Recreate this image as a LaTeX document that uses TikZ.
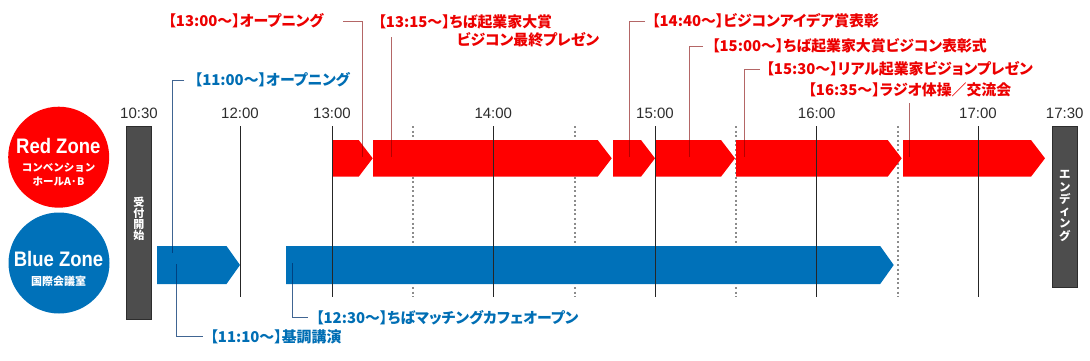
\documentclass[tikz,border=0pt]{standalone}
\usepackage{fontspec}
\usepackage{xcolor}
\setmainfont{Liberation Sans}
\newfontfamily\jp{Noto Sans CJK JP}
\newfontfamily\jpp[RawFeature=+palt]{Noto Sans CJK JP}
\usetikzlibrary{calc}
\definecolor{zred}{RGB}{255,0,0}
\definecolor{zblue}{RGB}{0,113,185}
\definecolor{txtred}{RGB}{236,0,0}
\definecolor{txtblue}{RGB}{0,110,180}
\definecolor{leadred}{RGB}{130,0,0}
\definecolor{leadblue}{RGB}{0,50,110}
\definecolor{barfill}{RGB}{77,77,77}
\definecolor{bardraw}{RGB}{45,45,45}
\definecolor{timegray}{RGB}{45,45,45}

\begin{document}
\begin{tikzpicture}[x=1pt,y=-1pt,line width=1pt,
	tlabel/.style={font=\fontsize{15}{15}\selectfont,text=timegray,inner sep=0pt},
	rlabel/.style={font=\jpp\bfseries\fontsize{14.9}{14.9}\selectfont,text=txtred,anchor=west,inner sep=0pt},
	blabel/.style={font=\jpp\bfseries\fontsize{14.9}{14.9}\selectfont,text=txtblue,anchor=west,inner sep=0pt},
	rlead/.style={draw=leadred,draw opacity=0.6,line width=1pt},
	blead/.style={draw=leadblue,draw opacity=0.75,line width=1pt},
	hourline/.style={draw=black!85,line width=1pt},
	dotline/.style={draw=black!45,line width=1.6pt,dash pattern=on 2pt off 2.6pt},
	gbar/.style={fill=barfill,draw=bardraw,line width=0.8pt},
	vtext/.style={font=\jp\bfseries\fontsize{11}{11}\selectfont,text=white,align=center,inner sep=0pt}]
	\useasboundingbox (0,0) rectangle (1090,360);
	% % % % % % % % % % % % % % %
	\pgfmathsetmacro{\tip}{14} %箭头深度
	%半点虚线
	\foreach \x in {412.7,574.7,735.7,898} {
		\draw[dotline] (\x,126) -- (\x,297);
	}
	%Red Zone 的条
	\foreach \a/\b in {332/372.7,373/611.7,613/655,655.3/735,736/901.7,903/1045} {
		\fill[zred] (\a,140) -- (\b-\tip,140) -- (\b,158.3) -- (\b-\tip,176.7) -- (\a,176.7) -- cycle;
	}
	%Blue Zone 的条
	\foreach \a/\b in {157/240,286/893.7} {
		\fill[zblue] (\a,246) -- (\b-13.5,246) -- (\b,265) -- (\b-13.5,284) -- (\a,284) -- cycle;
	}
	%受付, エンディング
	\draw[gbar] (126,126) rectangle (151.7,319.3);
	\draw[gbar] (1052.3,126.7) rectangle (1077.3,287);
	\node[vtext] (reception) at (138.9,219) {受\\付\\開\\始};
	\node[vtext,font=\jp\bfseries\fontsize{11.5}{12.3}\selectfont] (ending) at (1064.8,206) {エ\\ン\\デ\\ィ\\ン\\グ};
	%整点线和时刻
	\foreach \x/\hh/\n in {240/12:00/h12,332/13:00/h13,493.3/14:00/h14,655/15:00/h15,816.7/16:00/h16,978/17:00/h17} {
		\draw[hourline] (\x,126) -- (\x,297);
		\node[tlabel] (\n) at (\x,113.5) {\hh};
	}
	\node[tlabel] (h1030) at (139,113.5) {10:30};
	\node[tlabel] (h1730) at (1064.7,113.5) {17:30};
	%两个圆
	\node[circle,fill=zred,minimum size=101pt,inner sep=0pt] (redzone) at (58.7,157.2) {};
	\node[circle,fill=zblue,minimum size=101pt,inner sep=0pt] (bluezone) at (59,263) {};
	\node[text=white,inner sep=0pt,font=\bfseries\fontsize{21}{21}\selectfont] (redT) at (58.3,146) {\scalebox{0.88}[1]{Red Zone}};
	\node[text=white,inner sep=0pt,font=\jp\bfseries\fontsize{10.5}{10.5}\selectfont] (redS1) at (58.5,168) {コンベンション};
	\node[text=white,inner sep=0pt,font=\jp\bfseries\fontsize{10.5}{10.5}\selectfont] (redS2) at (58.5,182) {ホールA·B};
	\node[text=white,inner sep=0pt,font=\bfseries\fontsize{21}{21}\selectfont] (blueT) at (58.5,259) {\scalebox{0.88}[1]{Blue Zone}};
	\node[text=white,inner sep=0pt,font=\jp\bfseries\fontsize{11}{11}\selectfont] (blueS) at (58.5,281.5) {国際会議室};
	%红色的标注
	\node[rlabel] (lblR1) at (168,21) {【13:00～】オープニング};
	\node[rlabel] (lblR2) at (378,22) {【13:15～】ちば起業家大賞};
	\node[rlabel] (lblR2b) at (456.5,39.5) {ビジコン最終プレゼン};
	\node[rlabel] (lblR3) at (651.7,21) {【14:40～】ビジコンアイデア賞表彰};
	\node[rlabel] (lblR4) at (711.7,46) {【15:00～】ちば起業家大賞ビジコン表彰式};
	\node[rlabel] (lblR5) at (766,69) {【15:30～】リアル起業家ビジョンプレゼン};
	\node[rlabel] (lblR6) at (808,90) {【16:35～】ラジオ体操／交流会};
	\coordinate (pR1) at (362,157);
	\coordinate (pR2a) at (391,37);
	\coordinate (pR2) at (391,157);
	\coordinate (pR3) at (629,157);
	\coordinate (pR4) at (689,157);
	\coordinate (pR5) at (744,157);
	\coordinate (pR6a) at (909,103);
	\coordinate (pR6) at (909,157);
	\draw[rlead] ([xshift=19pt]lblR1.east) -| (pR1);
	\draw[rlead] (pR2a) -- (pR2);
	\draw[rlead] ([xshift=-6.7pt]lblR3.west) -| (pR3);
	\draw[rlead] ([xshift=-8.7pt]lblR4.west) -| (pR4);
	\draw[rlead] ([xshift=-6pt]lblR5.west) -| (pR5);
	\draw[rlead] (pR6a) -- (pR6);
	%蓝色的标注
	\node[blabel] (lblB1) at (194.3,80) {【11:00～】オープニング};
	\node[blabel] (lblB2) at (210,336.7) {【11:10～】基調講演};
	\node[blabel] (lblB3) at (315.7,317.3) {【12:30～】ちばマッチングカフェオープン};
	\coordinate (pB1) at (172,253);
	\coordinate (pB2) at (176,264);
	\coordinate (pB3) at (292,263);
	\draw[blead] ([xshift=-10pt]lblB1.west) -| (pB1);
	\draw[blead] (pB2) |- ([xshift=-6.7pt]lblB2.west);
	\draw[blead] (pB3) |- ([xshift=-7.7pt]lblB3.west);
\end{tikzpicture}
\end{document}
